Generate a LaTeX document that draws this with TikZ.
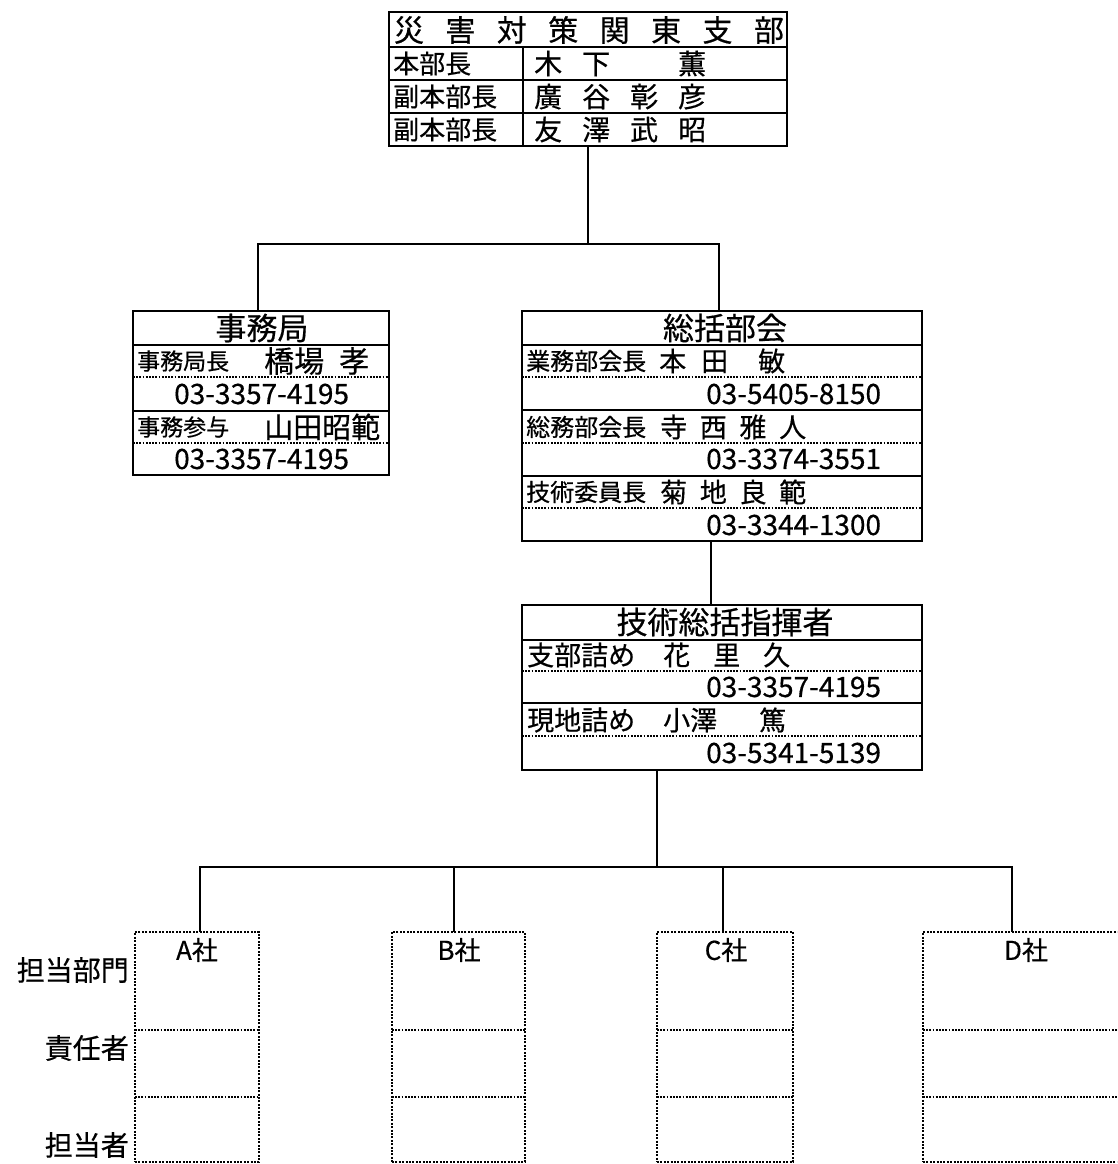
\documentclass[tikz,border=0pt]{standalone}
\usepackage{fontspec}
\setmainfont{Noto Sans CJK JP}[FakeBold=0.5]
\usetikzlibrary{calc}
\newcommand\myfs[1]{\fontsize{#1}{#1}\selectfont}
\begin{document}
\begin{tikzpicture}[x=1pt,y=-1pt,
  box/.style={draw, line width=2.4pt, anchor=north west, inner sep=0, outer sep=0},
  cbox/.style={draw, line width=2.2pt, dash pattern=on 2pt off 1.4pt, anchor=north west, inner sep=0, outer sep=0},
  sline/.style={line width=2pt},
  dline/.style={line width=1.9pt, dash pattern=on 1.8pt off 1.4pt},
  conn/.style={line width=2.2pt},
  ttl/.style={inner sep=0, font=\myfs{31}},
  lab/.style={inner sep=0, anchor=west, font=\myfs{24}},
  nm/.style={inner sep=0, anchor=west, font=\myfs{28}},
  tel/.style={inner sep=0, anchor=west, font=\myfs{28}},
  side/.style={inner sep=0, anchor=east, font=\myfs{28}},
]
\useasboundingbox (0,0) rectangle (1117,1164);
\fill[white] (0,0) rectangle (1117,1164);
\clip (0,0) rectangle (1117,1164);

% ---------- top box ----------
\node[box, minimum width=398pt, minimum height=134pt] (top) at (389,12) {};
\draw[sline] (389,47) -- (787,47);
\draw[sline] (389,80) -- (787,80);
\draw[sline] (389,113) -- (787,113);
\draw[sline] (523,47) -- (523,146);
\node[inner sep=0, font=\myfs{30}] (t0) at (589,30) {\makebox[390pt][s]{災 害 対 策 関 東 支 部}};
\node[lab, font=\myfs{26}] (t1a) at (393,63.5) {本部長};
\node[lab, font=\myfs{26}] (t2a) at (393,96.5) {副本部長};
\node[lab, font=\myfs{26}] (t3a) at (393,129.5) {副本部長};
\node[nm] (t1b) at (534,63.5) {\makebox[172pt][s]{木 下 \hphantom{薫} 薫}};
\node[nm] (t2b) at (534,96.5) {\makebox[172pt][s]{廣 谷 彰 彦}};
\node[nm] (t3b) at (534,129.5) {\makebox[172pt][s]{友 澤 武 昭}};

% ---------- 事務局 ----------
\node[box, minimum width=256pt, minimum height=164pt] (jim) at (133,311) {};
\draw[sline] (133,345) -- (389,345);
\draw[dline] (133,377) -- (389,377);
\draw[sline] (133,411) -- (389,411);
\draw[dline] (133,443) -- (389,443);
\node[ttl] (j0) at (262,328) {事務局};
\node[lab, font=\myfs{23}] (j1a) at (137,361) {事務局長};
\node[nm, font=\myfs{30}] (j1b) at (264,361) {橋場\hspace{15pt}孝};
\node[tel] (j1c) at (174,394) {03-3357-4195};
\node[lab, font=\myfs{23}] (j2a) at (137,427) {事務参与};
\node[nm, font=\myfs{29}] (j2b) at (264,427) {山田昭範};
\node[tel] (j2c) at (174,459) {03-3357-4195};

% ---------- 総括部会 ----------
\node[box, minimum width=400pt, minimum height=230pt] (sou) at (522,311) {};
\draw[sline] (522,345) -- (922,345);
\draw[dline] (522,377) -- (922,377);
\draw[sline] (522,410) -- (922,410);
\draw[dline] (522,443) -- (922,443);
\draw[sline] (522,476) -- (922,476);
\draw[dline] (522,508) -- (922,508);
\node[ttl] (s0) at (725,328) {総括部会};
\node[lab] (s1a) at (526,361) {業務部会長};
\node[nm, font=\myfs{27}] (s1b) at (659,361) {本\hspace{15pt}田\hspace{30pt}敏};
\node[tel] (s1c) at (706,394) {03-5405-8150};
\node[lab] (s2a) at (526,427) {総務部会長};
\node[nm, font=\myfs{27}] (s2b) at (660,427) {\makebox[146pt][s]{寺 西 雅 人}};
\node[tel] (s2c) at (706,459) {03-3374-3551};
\node[lab] (s3a) at (526,492) {技術委員長};
\node[nm, font=\myfs{27}] (s3b) at (660,492) {\makebox[146pt][s]{菊 地 良 範}};
\node[tel] (s3c) at (706,525) {03-3344-1300};

% ---------- 技術総括指揮者 ----------
\node[box, minimum width=400pt, minimum height=165pt] (gij) at (522,605) {};
\draw[sline] (522,640) -- (922,640);
\draw[dline] (522,671) -- (922,671);
\draw[sline] (522,703) -- (922,703);
\draw[dline] (522,736) -- (922,736);
\node[ttl] (g0) at (725,622) {技術総括指揮者};
\node[lab, font=\myfs{27}] (g1a) at (527,655) {支部詰め};
\node[nm, font=\myfs{27}] (g1b) at (663,655) {\makebox[127pt][s]{花 里 久}};
\node[tel] (g1c) at (706,687) {03-3357-4195};
\node[lab, font=\myfs{27}] (g2a) at (527,720) {現地詰め};
\node[nm, font=\myfs{27}] (g2b) at (663,720) {小澤\hspace{42pt}篤};
\node[tel] (g2c) at (706,753) {03-5341-5139};

% ---------- company boxes ----------
\node[cbox, minimum width=124pt, minimum height=230pt] (ca) at (135,932) {};
\node[cbox, minimum width=133pt, minimum height=230pt] (cb) at (392,932) {};
\node[cbox, minimum width=136pt, minimum height=230pt] (cc) at (657,932) {};
\node[cbox, minimum width=204pt, minimum height=230pt] (cd) at (923,932) {};
\foreach \l/\r in {135/259, 392/525, 657/793, 923/1127}{
  \draw[dline] (\l,1030) -- (\r,1030);
  \draw[dline] (\l,1097) -- (\r,1097);
}
\node[inner sep=0, font=\myfs{26}] (la) at (197,950) {A社};
\node[inner sep=0, font=\myfs{26}] (lb) at (459,950) {B社};
\node[inner sep=0, font=\myfs{26}] (lc) at (726,950) {C社};
\node[inner sep=0, font=\myfs{26}] (ld) at (1026,950) {D社};

\node[side] (sd1) at (129,970) {担当部門};
\node[side] (sd2) at (129,1048) {責任者};
\node[side] (sd3) at (129,1145) {担当者};

% ---------- connectors ----------
\coordinate (bar1) at (0,244);
\coordinate (jin) at ($(jim.north west)+(125,0)$);
\coordinate (sin) at ($(sou.north west)+(197,0)$);
\draw[conn] (top.south) -- (top.south |- bar1);
\draw[conn] (jin) -- (jin |- bar1) -- (sin |- bar1) -- (sin);

\coordinate (sout) at ($(sou.south west)+(189,0)$);
\coordinate (gin) at ($(gij.north west)+(189,0)$);
\draw[conn] (sout) -- (gin);

\coordinate (bar2) at (0,867);
\coordinate (gout) at ($(gij.south west)+(135,0)$);
\coordinate (ain) at ($(ca.north west)+(65,0)$);
\coordinate (bin) at ($(cb.north west)+(62,0)$);
\coordinate (cin) at ($(cc.north west)+(66,0)$);
\coordinate (din) at ($(cd.north west)+(89,0)$);
\draw[conn] (gout) -- (gout |- bar2);
\draw[conn] (ain) -- (ain |- bar2) -- (din |- bar2) -- (din);
\draw[conn] (bin) -- (bin |- bar2);
\draw[conn] (cin) -- (cin |- bar2);
\end{tikzpicture}
\end{document}
